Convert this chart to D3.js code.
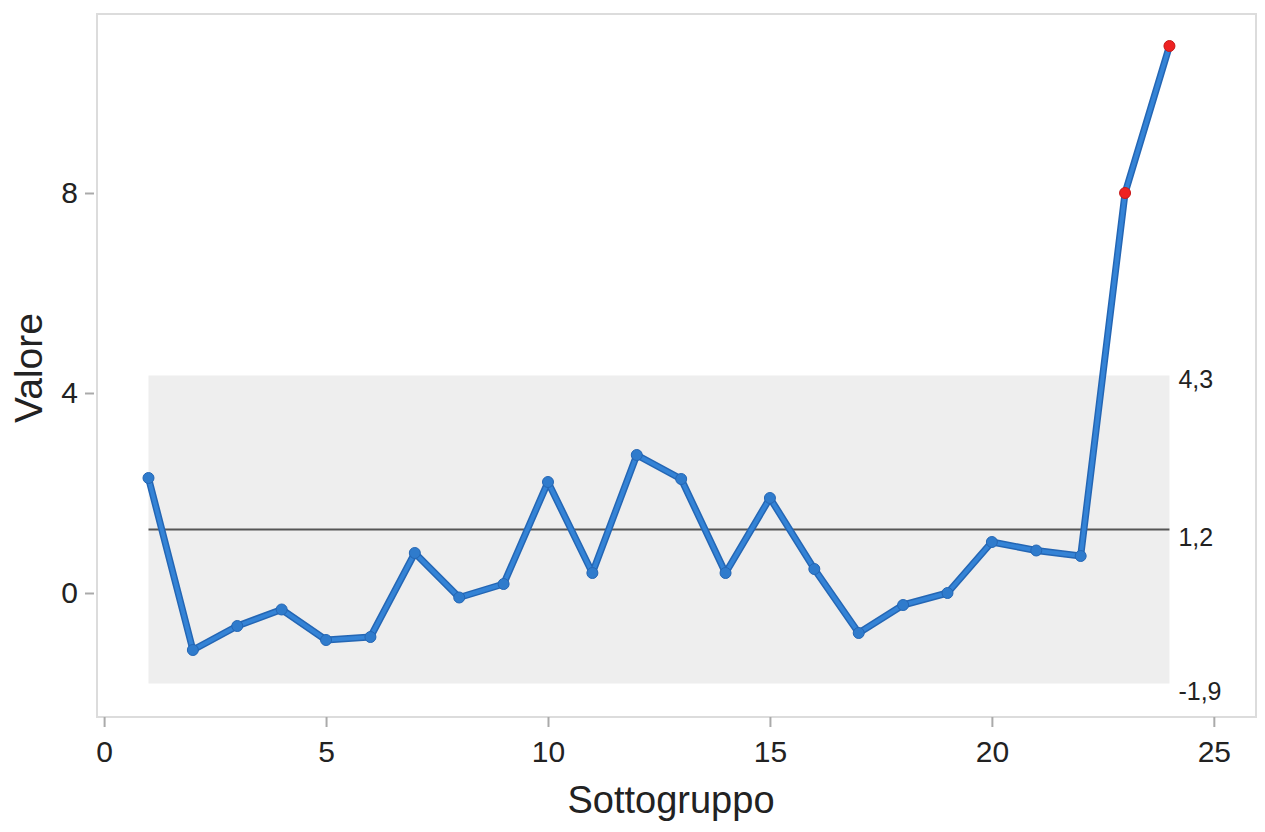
<!DOCTYPE html>
<html>
<head>
<meta charset="utf-8">
<script src="https://cdn.jsdelivr.net/npm/d3@7"></script>
<style>
  html, body { margin: 0; padding: 0; background: #fff; }
  svg { display: block; font-family: "Liberation Sans", Arial, sans-serif; }
</style>
</head>
<body>
<svg id="chart" width="1265" height="832"></svg>
<script>
// ---- data ----
const subgroups = [1,2,3,4,5,6,7,8,9,10,11,12,13,14,15,16,17,18,19,20,21,22,23,24];
const values = [2.30,-1.14,-0.66,-0.33,-0.94,-0.88,0.80,-0.09,0.18,2.22,0.40,2.76,2.28,0.40,1.90,0.48,-0.80,-0.24,0.00,1.02,0.85,0.74,8.00,10.94];
const outOfControl = [23, 24];
const limitValues = [4.35, 1.27, -1.81];      // UCL, CL, LCL
const limitLabels = ["4,3", "1,2", "-1,9"];
const xTicks = [0, 5, 10, 15, 20, 25];
const yTicks = [0, 4, 8];
const xTitle = "Sottogruppo";
const yTitle = "Valore";

// ---- layout ----
const svg = d3.select("#chart");
const frame = {left: 97, right: 1256, top: 14, bottom: 717};
const x = d3.scaleLinear().domain([-0.16, 25.95]).range([frame.left, frame.right]);
const y = d3.scaleLinear().domain([-2.48, 11.58]).range([frame.bottom, frame.top]);

// band between control limits
const xFirst = d3.min(subgroups), xLast = d3.max(subgroups);
svg.append("rect")
  .attr("x", x(xFirst)).attr("width", x(xLast) - x(xFirst))
  .attr("y", y(limitValues[0])).attr("height", y(limitValues[2]) - y(limitValues[0]))
  .attr("fill", "#eeeeee");

// center line
svg.append("line")
  .attr("x1", x(xFirst)).attr("x2", x(xLast))
  .attr("y1", y(limitValues[1])).attr("y2", y(limitValues[1]))
  .attr("stroke", "#555").attr("stroke-width", 2);

// frame
svg.append("rect")
  .attr("x", frame.left).attr("y", frame.top)
  .attr("width", frame.right - frame.left).attr("height", frame.bottom - frame.top)
  .attr("fill", "none").attr("stroke", "#dcdcdc").attr("stroke-width", 2);

// axes
const xAxis = d3.axisBottom(x).tickValues(xTicks).tickSize(10).tickPadding(14).tickFormat(d3.format("d"));
const gx = svg.append("g").attr("transform", `translate(0,${frame.bottom})`).call(xAxis);
gx.select(".domain").remove();
gx.selectAll(".tick line").attr("stroke", "#aaa").attr("stroke-width", 2);
gx.selectAll(".tick text").attr("font-size", 30).attr("fill", "#222").attr("font-family", "Liberation Sans, Arial, sans-serif");

const yAxis = d3.axisLeft(y).tickValues(yTicks).tickSize(12).tickPadding(7).tickFormat(d3.format("d"));
const gy = svg.append("g").attr("transform", `translate(${frame.left},0)`).call(yAxis);
gy.select(".domain").remove();
gy.selectAll(".tick line").attr("stroke", "#aaa").attr("stroke-width", 2).attr("x2", -12).attr("x1", -3);
gy.selectAll(".tick text").attr("font-size", 30).attr("fill", "#222").attr("font-family", "Liberation Sans, Arial, sans-serif");

// axis titles
svg.append("text")
  .attr("x", 671).attr("y", 813)
  .attr("text-anchor", "middle").attr("font-size", 38).attr("fill", "#222")
  .text(xTitle);
svg.append("text")
  .attr("transform", `translate(42,${368}) rotate(-90)`)
  .attr("text-anchor", "middle").attr("font-size", 39).attr("fill", "#222")
  .text(yTitle);

// limit labels
svg.selectAll(".limlab").data(limitValues).enter().append("text")
  .attr("class", "limlab")
  .attr("x", x(xLast) + 9)
  .attr("y", (d, i) => y(d) + (i === 0 ? 12 : i === 1 ? 16 : 16))
  .attr("font-size", 25).attr("fill", "#222")
  .text((d, i) => limitLabels[i]);

// data line
const pts = subgroups.map((s, i) => ({s, v: values[i]}));
const line = d3.line().x(d => x(d.s)).y(d => y(d.v));
svg.append("path").datum(pts)
  .attr("d", line).attr("fill", "none")
  .attr("stroke", "#2466b4").attr("stroke-width", 7).attr("stroke-linejoin", "round");
svg.append("path").datum(pts)
  .attr("d", line).attr("fill", "none")
  .attr("stroke", "#3483d6").attr("stroke-width", 4).attr("stroke-linejoin", "round");

svg.selectAll(".pt").data(pts).enter().append("circle")
  .attr("class", "pt")
  .attr("cx", d => x(d.s)).attr("cy", d => y(d.v))
  .attr("r", 5.5)
  .attr("fill", d => outOfControl.includes(d.s) ? "#ee2222" : "#2f7bcc")
  .attr("stroke", d => outOfControl.includes(d.s) ? "#c81818" : "#2466b4")
  .attr("stroke-width", 1);
</script>
</body>
</html>
